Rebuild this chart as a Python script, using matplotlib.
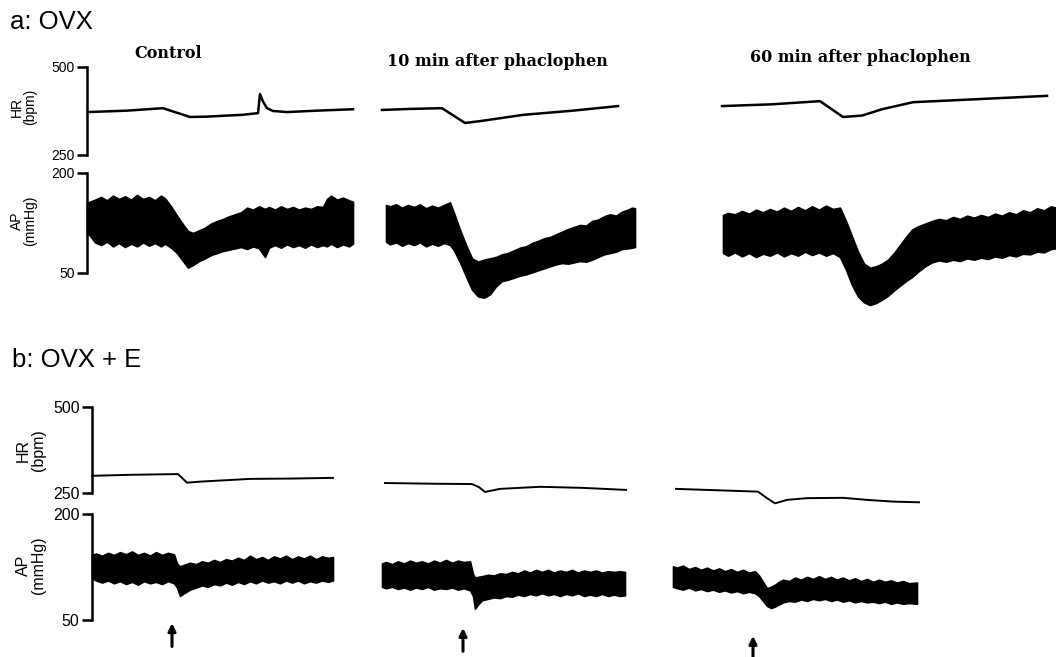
import numpy as np
import matplotlib
matplotlib.use("Agg")
from matplotlib import pyplot as plt

plt.rcParams["font.family"] = ["Liberation Sans", "DejaVu Sans"]

W, H = 1056, 657

# ---- panel a: OVX ----------------------------------------------------------
# segment start offsets along the time axis (s)
a_offsets = [0, 295, 635]
a_titles = ["Control", "10 min after phaclophen", "60 min after phaclophen"]

# heart rate traces (bpm)
a_hr_t = [
    [1, 40, 76, 90, 103, 120, 140, 155, 171, 173, 176, 180, 186, 200, 230, 266],
    [0, 30, 60, 83, 100, 141, 191, 236],
    [0, 50, 98, 121, 140, 160, 191, 258, 325],
]
a_hr = [
    [372, 376, 383, 370, 358, 359, 362, 364, 369, 423, 402, 383, 375, 372, 376, 380],
    [378, 381, 383, 341, 347, 364, 376, 389],
    [389, 394, 403, 358, 362, 380, 400, 409, 418],
]

# arterial pressure envelopes (mmHg): systolic (upper) and diastolic (lower)
a_ap_t = [
    [0, 3, 8, 14, 20, 26, 32, 38, 44, 50, 56, 62, 68, 74, 78, 84, 90, 96, 101, 106,
     112, 118, 124, 130, 136, 142, 148, 154, 160, 166, 172, 178, 182, 188, 194, 200,
     206, 212, 218, 224, 230, 236, 240, 244, 250, 256, 262, 266],
    [4, 8, 14, 20, 26, 32, 38, 44, 50, 56, 62, 68, 72, 78, 84, 90, 96, 102, 108, 114,
     120, 126, 132, 138, 144, 150, 156, 162, 168, 174, 180, 186, 192, 198, 204, 210,
     216, 222, 228, 234, 240, 246, 250, 253],
    [1, 6, 13, 20, 27, 34, 41, 48, 55, 62, 69, 76, 83, 90, 97, 104, 111, 118, 124, 130,
     136, 142, 148, 154, 160, 166, 172, 178, 184, 190, 196, 203, 210, 217, 224, 231,
     238, 245, 252, 259, 266, 273, 280, 287, 294, 301, 308, 315, 322, 329, 334],
]
a_ap_hi = [
    [156, 157, 160, 164, 159, 166, 161, 165, 160, 167, 161, 164, 159, 166, 162, 150,
     136, 123, 113, 110, 114, 118, 124, 128, 131, 135, 138, 141, 148, 145, 150, 146,
     149, 145, 150, 146, 149, 145, 148, 146, 150, 149, 161, 166, 160, 163, 159, 157],
    [152, 150, 153, 148, 152, 149, 153, 147, 151, 148, 152, 156, 140, 115, 92, 72,
     67, 70, 72, 74, 78, 80, 84, 88, 90, 95, 98, 102, 104, 108, 112, 116, 119, 122,
     121, 128, 130, 135, 138, 136, 142, 145, 148, 147],
    [137, 140, 138, 143, 139, 145, 141, 146, 142, 148, 143, 149, 144, 150, 145, 151,
     146, 148, 128, 105, 82, 64, 58, 60, 64, 70, 80, 92, 104, 115, 120, 124, 128, 131,
     129, 134, 131, 136, 133, 137, 134, 139, 136, 141, 138, 144, 141, 147, 144, 150, 148],
]
a_ap_lo = [
    [110, 106, 96, 92, 97, 90, 95, 89, 94, 90, 96, 91, 95, 90, 94, 88, 80, 68, 58, 62,
     68, 72, 77, 80, 83, 85, 87, 89, 86, 90, 87, 74, 88, 92, 88, 93, 89, 92, 88, 93,
     89, 92, 90, 94, 89, 93, 90, 94],
    [97, 93, 96, 91, 95, 92, 96, 90, 94, 91, 95, 92, 84, 66, 45, 25, 15, 13, 18, 30,
     38, 40, 43, 46, 48, 51, 54, 57, 60, 63, 65, 64, 66, 68, 67, 70, 74, 78, 80, 82,
     86, 87, 88, 89],
    [80, 76, 81, 75, 80, 74, 79, 76, 81, 75, 80, 76, 82, 77, 81, 76, 80, 74, 55, 32,
     15, 6, 2, 5, 10, 16, 24, 31, 38, 44, 52, 60, 66, 69, 67, 70, 68, 72, 70, 73, 71,
     75, 73, 77, 75, 79, 78, 82, 81, 86, 87],
]

# ---- panel b: OVX + E ------------------------------------------------------
b_offsets = [0, 290, 581]
b_injection = [80, 81, 80]

b_hr_t = [
    [0, 40, 86, 95, 108, 158, 200, 241],
    [3, 50, 90, 97, 103, 118, 158, 200, 244],
    [3, 54, 85, 94, 102, 114, 134, 170, 194, 220, 246],
]
b_hr = [
    [300, 303, 305, 280, 283, 291, 292, 294],
    [279, 277, 276, 267, 253, 262, 268, 265, 259],
    [262, 257, 254, 235, 220, 230, 235, 236, 230, 225, 223],
]

b_ap_t = [
    [0, 4, 10, 16, 22, 28, 34, 40, 46, 52, 58, 64, 70, 76, 82, 85, 88, 92, 98, 104,
     110, 116, 122, 128, 134, 140, 146, 152, 158, 164, 170, 176, 182, 188, 194, 200,
     206, 212, 218, 224, 230, 236, 241],
    [0, 4, 10, 16, 22, 28, 34, 40, 46, 52, 58, 64, 70, 76, 82, 88, 91, 93, 96, 100,
     106, 112, 118, 124, 130, 136, 142, 148, 154, 160, 166, 172, 178, 184, 190, 196,
     202, 208, 214, 220, 226, 232, 238, 243],
    [0, 4, 10, 16, 22, 28, 34, 40, 46, 52, 58, 64, 70, 76, 82, 86, 90, 94, 98, 102,
     106, 110, 116, 122, 128, 134, 140, 146, 152, 158, 164, 170, 176, 182, 188, 194,
     200, 206, 212, 218, 224, 230, 236, 244],
]
b_ap_hi = [
    [142, 144, 141, 145, 142, 146, 143, 147, 142, 145, 141, 146, 142, 145, 143, 130,
     126, 128, 131, 129, 133, 131, 135, 132, 136, 134, 138, 135, 141, 136, 139, 135,
     140, 137, 141, 136, 140, 137, 141, 136, 140, 138, 139],
    [130, 132, 129, 133, 130, 134, 131, 133, 130, 134, 131, 135, 131, 134, 132, 133,
     115, 110, 111, 112, 114, 113, 116, 115, 118, 116, 120, 117, 121, 118, 121, 117,
     120, 118, 121, 117, 120, 118, 120, 117, 119, 118, 119, 118],
    [126, 124, 127, 122, 125, 121, 124, 120, 123, 119, 122, 118, 121, 117, 119, 113,
     104, 95, 97, 100, 104, 107, 105, 110, 107, 111, 108, 112, 108, 111, 107, 110,
     106, 109, 105, 108, 104, 107, 104, 106, 103, 105, 102, 103],
]
b_ap_lo = [
    [109, 106, 103, 106, 102, 105, 101, 104, 100, 105, 102, 104, 101, 105, 102, 96,
     84, 88, 93, 96, 99, 97, 101, 99, 103, 100, 104, 101, 105, 102, 106, 103, 105,
     102, 106, 103, 106, 102, 105, 103, 106, 104, 106],
    [97, 95, 97, 94, 96, 93, 96, 94, 97, 93, 95, 94, 96, 93, 95, 92, 84, 66, 72, 78,
     80, 82, 81, 84, 83, 86, 84, 87, 85, 88, 85, 87, 84, 87, 85, 88, 84, 86, 84, 87,
     84, 86, 84, 85],
    [97, 95, 93, 96, 92, 94, 91, 93, 90, 92, 89, 91, 88, 90, 88, 84, 77, 70, 67, 69,
     72, 75, 77, 76, 79, 77, 80, 78, 80, 77, 79, 76, 78, 75, 77, 75, 76, 74, 76, 73,
     75, 73, 74, 73],
]


def rect(left, top, bottom):
    # pixel box -> figure fraction
    return [left / W, 1 - bottom / H, (W - left) / W, (bottom - top) / H]


def style_axis(ax, lims, label, label_xy, fs, lw):
    ax.set_ylim(*lims)
    ax.set_xlim(0, W - ax.get_position().x0 * W)
    for side in ["top", "right", "bottom"]:
        ax.spines[side].set_visible(False)
    ax.spines["left"].set_linewidth(lw)
    ax.set_xticks([])
    ax.set_yticks(list(lims))
    ax.tick_params(axis="y", direction="out", length=7, width=lw, labelsize=fs, pad=2)
    ax.set_ylabel(label, fontsize=fs, linespacing=1.0)
    ax.yaxis.set_label_coords(*label_xy)
    ax.patch.set_alpha(0)


fig = plt.figure(figsize=(W / 100, H / 100), dpi=100)

# panel a
ax_a_hr = fig.add_axes(rect(87, 67, 155))
ax_a_ap = fig.add_axes(rect(87, 173, 273))
style_axis(ax_a_hr, (250, 500), "HR\n(bpm)", (-0.051, 0.55), 10, 1.8)
style_axis(ax_a_ap, (50, 200), "AP\n(mmHg)", (-0.051, 0.52), 10, 1.8)

for i, off in enumerate(a_offsets):
    ax_a_hr.plot(np.array(a_hr_t[i]) + off, a_hr[i], color="black", lw=1.8, clip_on=False)
    t = np.array(a_ap_t[i]) + off
    ax_a_ap.fill_between(t, a_ap_lo[i], a_ap_hi[i], color="black", lw=1.2, clip_on=False)

# panel b
ax_b_hr = fig.add_axes(rect(92, 407, 493))
ax_b_ap = fig.add_axes(rect(92, 514, 620))
style_axis(ax_b_hr, (250, 500), "HR\n(bpm)", (-0.048, 0.5), 11.5, 1.8)
style_axis(ax_b_ap, (50, 200), "AP\n(mmHg)", (-0.048, 0.52), 11.5, 1.8)

arrow_drop = [0.03, 0.075, 0.15]
for i, off in enumerate(b_offsets):
    ax_b_hr.plot(np.array(b_hr_t[i]) + off, b_hr[i], color="black", lw=1.4, clip_on=False)
    t = np.array(b_ap_t[i]) + off
    ax_b_ap.fill_between(t, b_ap_lo[i], b_ap_hi[i], color="black", lw=1.2, clip_on=False)
    x = b_injection[i] + off
    ax_b_ap.annotate(
        "",
        xy=(x, -arrow_drop[i]),
        xytext=(x, -arrow_drop[i] - 0.22),
        xycoords=("data", "axes fraction"),
        textcoords=("data", "axes fraction"),
        arrowprops=dict(arrowstyle="-|>", color="black", lw=2.2, mutation_scale=11,
                        shrinkA=0, shrinkB=0),
        annotation_clip=False,
    )

# titles
fig.text(10 / W, 1 - 22 / H, "a: OVX", fontsize=18.5, ha="left", va="center")
fig.text(12 / W, 1 - 360 / H, "b: OVX + E", fontsize=18.5, ha="left", va="center")
for x, y, title in zip([168, 497, 860], [53, 62, 58], a_titles):
    fig.text(x / W, 1 - y / H, title, fontsize=11.5, fontweight="bold",
             family="DejaVu Serif", ha="center", va="center")

fig.savefig("out.png", dpi=100)
